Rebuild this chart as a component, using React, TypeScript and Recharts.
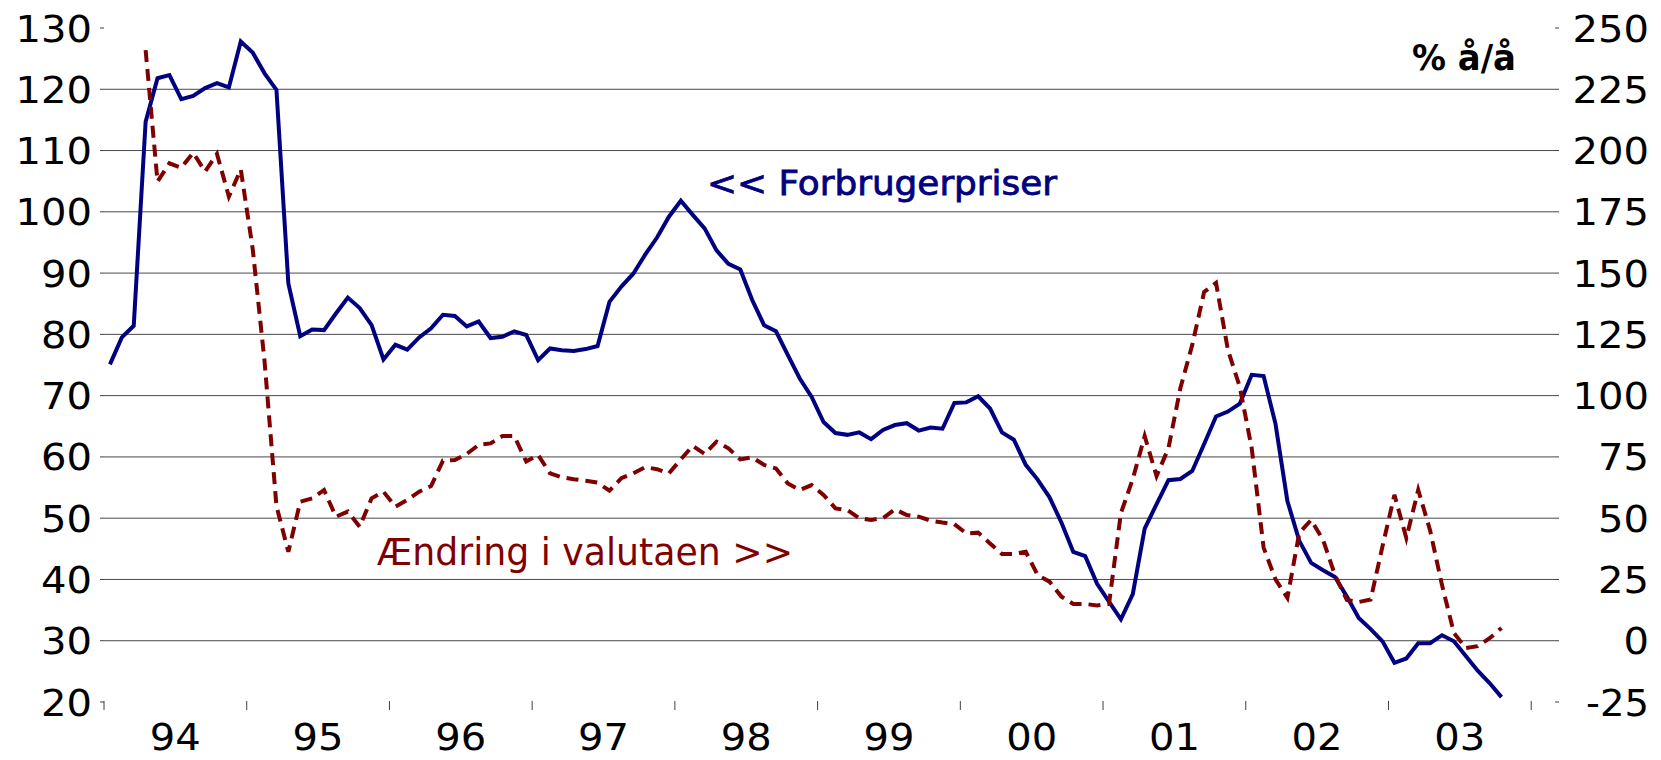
import { CartesianGrid, Line, LineChart, XAxis, YAxis } from "recharts";

// Månedlige observationer, jan 94 - okt 03 (aksen løber til feb 04)
const antalMaaneder = 122;
const aarEtiketter = ["94", "95", "96", "97", "98", "99", "00", "01", "02", "03"];

// << Forbrugerpriser (venstre akse, % å/å)
const forbrugerpriser: number[] = [
  75.1, 79.5, 81.4, 114.7, 121.8, 122.3, 118.4, 118.9, 120.2, 121.0, 120.3, 127.8,
  126.0, 122.6, 119.9, 88.3, 79.7, 80.8, 80.7, 83.4, 86.0, 84.3, 81.5, 75.9,
  78.3, 77.5, 79.5, 81.0, 83.2, 83.0, 81.3, 82.1, 79.4, 79.6, 80.5, 79.9,
  75.8, 77.7, 77.4, 77.3, 77.6, 78.1, 85.3, 87.8, 89.9, 93.0, 95.8, 99.2,
  101.8, 99.5, 97.3, 93.7, 91.5, 90.6, 85.6, 81.5, 80.5, 76.6, 72.8, 69.8,
  65.7, 63.9, 63.6, 64.0, 62.9, 64.4, 65.2, 65.5, 64.3, 64.8, 64.6, 68.8,
  68.9, 69.9, 67.9, 64.0, 62.8, 58.7, 56.3, 53.4, 49.3, 44.5, 43.8, 39.3,
  36.4, 33.5, 37.6, 48.3, 52.3, 56.2, 56.4, 57.7, 62.1, 66.6, 67.4, 68.7,
  73.4, 73.2, 65.4, 52.8, 46.3, 42.7, 41.5, 40.4, 37.2, 33.7, 31.9, 29.9,
  26.4, 27.1, 29.6, 29.6, 30.9, 29.9, 27.5, 25.1, 23.1, 20.8,
];

// Ændring i valutaen >> (højre akse, % å/å)
const valutaAendring: (number | null)[] = [
  null, null, null, 241, 187.3, 194.8, 193.0, 199.1, 191.4, 198.6, 181.2, 192.3,
  160, 114, 55, 36.3, 56.7, 58.1, 61.5, 50.6, 52.7, 46.5, 58.1, 60.8,
  54.7, 57.4, 60.8, 63.1, 73.5, 73.7, 76.2, 79.9, 80.5, 83.5, 83.5, 73.1,
  75.8, 68.3, 66.7, 65.9, 65.3, 64.5, 61.2, 66.3, 68.3, 70.8, 70.0, 68.3,
  74.0, 79.5, 76.2, 81.2, 78.5, 74.0, 74.8, 71.7, 70.3, 64.2, 61.5, 63.5,
  59.5, 54.0, 53.3, 50.0, 49.3, 50.0, 53.6, 51.3, 50.6, 49.0, 48.2, 47.6,
  43.8, 44.1, 39.7, 35.4, 35.4, 36.3, 26.8, 24.1, 18.0, 15.0, 15.0, 14.4,
  15.0, 52, 66, 83.5, 67.2, 78.6, 103, 120.7, 142.3, 146, 118.6, 103.5,
  78.5, 38, 25, 17.5, 44, 49.3, 41.1, 26.8, 16.6, 15.8, 16.8, 38.6,
  59.5, 41.9, 61.5, 45, 22.7, 3.2, -3.0, -2.2, 1.0, 5.2,
];

const venstreTicks = [20, 30, 40, 50, 60, 70, 80, 90, 100, 110, 120, 130];
const hoejreTicks = [-25, 0, 25, 50, 75, 100, 125, 150, 175, 200, 225, 250];
const gitterVaerdier = [30, 40, 50, 60, 70, 80, 90, 100, 110, 120];

const xTicks: number[] = [];
aarEtiketter.forEach((_, k) => xTicks.push(k * 12, k * 12 + 6));
xTicks.push(aarEtiketter.length * 12);

const data = forbrugerpriser.map((v, i) => ({ t: i + 0.5, cpi: v, fx: valutaAendring[i] }));

const FONT = "'DejaVu Sans', sans-serif";
const FS = 37;
const AKSE_FARVE = "#404040";

// bredden på etiketten, tilpasset den brede skrift i originalen
const tekstBredde = (s: string) => {
  let w = 0;
  for (const c of s) w += c === "-" ? 12 : 25.5;
  return w;
};

function VenstreTick({ x, y, payload }: any) {
  const s = String(payload.value);
  return (
    <text x={x} y={y + FS * 0.365} textAnchor="end" fontFamily={FONT} fontSize={FS} fill="#000" textLength={tekstBredde(s)} lengthAdjust="spacingAndGlyphs">
      {s}
    </text>
  );
}

function HoejreTick({ x, y, payload }: any) {
  const s = String(payload.value);
  return (
    <text x={x + 90} y={y + FS * 0.365} textAnchor="end" fontFamily={FONT} fontSize={FS} fill="#000" textLength={tekstBredde(s)} lengthAdjust="spacingAndGlyphs">
      {s}
    </text>
  );
}

function AarTick({ x, y, payload }: any) {
  const v = payload.value as number;
  if (v % 12 === 0) {
    return <line x1={x} x2={x} y1={y - 1} y2={y + 8} stroke={AKSE_FARVE} strokeWidth={1} />;
  }
  const s = aarEtiketter[(v - 6) / 12];
  return (
    <text x={x} y={y + 48} textAnchor="middle" fontFamily={FONT} fontSize={FS} fill="#000" textLength={tekstBredde(s)} lengthAdjust="spacingAndGlyphs">
      {s}
    </text>
  );
}

export default function App() {
  return (
    <div style={{ position: "relative", width: 1661, height: 760, background: "#fff" }}>
      <style>{`body{margin:0}`}</style>
      <LineChart width={1661} height={760} data={data} margin={{ top: 28, right: 0, bottom: 0, left: 0 }}>
        <CartesianGrid yAxisId="v" horizontalValues={gitterVaerdier} vertical={false} stroke="#4a4a4a" strokeWidth={1} />
        <XAxis
          dataKey="t"
          type="number"
          domain={[0, antalMaaneder]}
          ticks={xTicks}
          interval={0}
          height={58}
          axisLine={false}
          tickLine={false}
          tickSize={0}
          tickMargin={0}
          tick={<AarTick />}
        />
        <YAxis
          yAxisId="v"
          orientation="left"
          domain={[20, 130]}
          ticks={venstreTicks}
          interval={0}
          width={104}
          axisLine={false}
          tickLine={{ stroke: AKSE_FARVE }}
          tickSize={4}
          tickMargin={8}
          tick={<VenstreTick />}
        />
        <YAxis
          yAxisId="h"
          orientation="right"
          domain={[-25, 250]}
          ticks={hoejreTicks}
          interval={0}
          width={106}
          axisLine={false}
          tickLine={{ stroke: AKSE_FARVE }}
          tickSize={4}
          tickMargin={0}
          tick={<HoejreTick />}
        />
        <Line yAxisId="v" type="linear" dataKey="cpi" stroke="#000080" strokeWidth={4} dot={false} isAnimationActive={false} />
        <Line
          yAxisId="h"
          type="linear"
          dataKey="fx"
          stroke="#7f0000"
          strokeWidth={4}
          strokeDasharray="12 7"
          dot={false}
          connectNulls={false}
          isAnimationActive={false}
        />
      </LineChart>
      <svg width={1661} height={760} style={{ position: "absolute", left: 0, top: 0, pointerEvents: "none" }}>
        <text x={1412} y={70} fontFamily={FONT} fontSize={36} fontWeight="bold" fill="#000" textLength={104} lengthAdjust="spacingAndGlyphs">
          % å/å
        </text>
        <text
          x={707}
          y={195}
          fontFamily={FONT}
          fontSize={34}
          fill="#000080"
          stroke="#000080"
          strokeWidth={0.8}
          textLength={350}
          lengthAdjust="spacingAndGlyphs"
        >
          {"<< Forbrugerpriser"}
        </text>
        <text x={377} y={565} fontFamily={FONT} fontSize={37} fill="#800000" textLength={416} lengthAdjust="spacingAndGlyphs">
          {"Ændring i valutaen >>"}
        </text>
      </svg>
    </div>
  );
}
